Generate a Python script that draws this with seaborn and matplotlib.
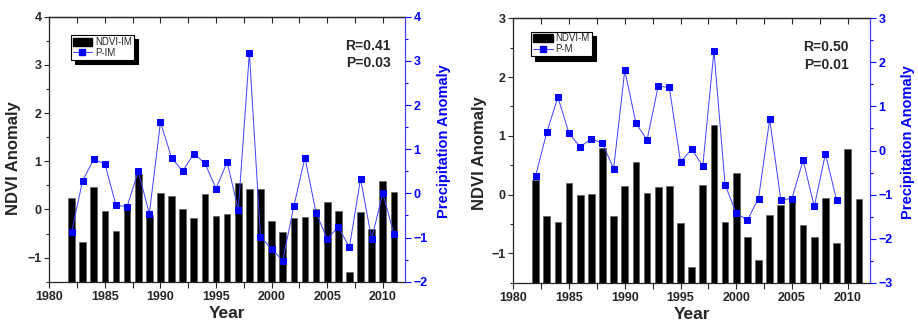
import matplotlib.pyplot as plt
import seaborn as sns
from matplotlib.patches import Patch
from matplotlib.lines import Line2D
from matplotlib.ticker import MultipleLocator

# Data
years = list(range(1982, 2012))

ndvi_im = [0.24, -0.68, 0.47, -0.03, -0.45, 0.10, 0.73, -0.12, 0.34, 0.28,
           0.00, -0.17, 0.32, -0.14, -0.10, 0.55, 0.43, 0.43, -0.23, -0.47,
           -0.18, -0.16, 0.01, 0.16, -0.03, -1.29, -0.05, -0.41, 0.58, 0.37]
p_im = [-0.88, 0.29, 0.77, 0.67, -0.27, -0.30, 0.50, -0.46, 1.61, 0.81,
        0.50, 0.90, 0.68, 0.11, 0.71, -0.37, 3.18, -0.98, -1.26, -1.52,
        -0.29, 0.81, -0.44, -1.03, -0.76, -1.22, 0.33, -1.03, 0.00, -0.91]

ndvi_m = [0.24, -0.37, -0.47, 0.20, 0.00, 0.01, 0.79, -0.37, 0.14, 0.56,
          0.02, 0.13, 0.15, -0.49, -1.24, 0.16, 1.19, -0.46, 0.36, -0.73,
          -1.12, -0.34, -0.18, -0.10, -0.52, -0.72, -0.05, -0.82, 0.78, -0.08]
# P-M series stops in 2009
p_m = [-0.58, 0.41, 1.21, 0.39, 0.08, 0.27, 0.16, -0.41, 1.82, 0.62,
       0.24, 1.46, 1.43, -0.26, 0.03, -0.35, 2.26, -0.78, -1.42, -1.58,
       -1.09, 0.71, -1.12, -1.09, -0.22, -1.27, -0.08, -1.12]

sns.set_style("ticks")
plt.rcParams["font.family"] = ["Liberation Sans", "DejaVu Sans"]
plt.rcParams["font.weight"] = "bold"

BLUE = "#0000FF"
LINE_BLUE = "#4040FF"


def panel(ax, ndvi, precip, ylim_l, ylim_r, bar_name, line_name, r_txt, p_txt,
          leg_pos, txt_x, ylab_xy, rlab_x):
    # bars are drawn up from the bottom of the axis, like in the original
    base = ylim_l[0]
    ax.bar(years, [v - base for v in ndvi], bottom=base, width=0.6,
           color="black", edgecolor="#555555", linewidth=0.4, zorder=2)
    ax.set_xlim(1980, 2012)
    ax.set_ylim(*ylim_l)
    ax.xaxis.set_major_locator(MultipleLocator(5))
    ax.xaxis.set_minor_locator(MultipleLocator(2.5))
    ax.yaxis.set_major_locator(MultipleLocator(1))
    ax.yaxis.set_minor_locator(MultipleLocator(0.5))
    ax.tick_params(axis="x", which="both", direction="out", length=4, width=0.8,
                   labelsize=9, pad=3)
    ax.tick_params(axis="y", which="major", direction="out", length=3.5, width=0.8,
                   labelsize=9, pad=2)
    ax.tick_params(axis="y", which="minor", direction="out", length=2, width=0.8)
    ax.spines["right"].set_visible(False)
    for s in ["left", "bottom", "top"]:
        ax.spines[s].set_linewidth(0.9)
    ax.set_xlabel("Year", fontsize=12.5, fontweight="bold", labelpad=2)
    ax.set_ylabel("NDVI Anomaly", fontsize=12, fontweight="bold")
    ax.yaxis.set_label_coords(*ylab_xy)

    # mirrored ticks on top, pointing inward
    top = ax.secondary_xaxis("top")
    top.xaxis.set_major_locator(MultipleLocator(2.5))
    top.tick_params(direction="in", length=4, width=0.8, labeltop=False)
    top.spines["top"].set_linewidth(0.9)

    axr = ax.twinx()
    sns.lineplot(x=years[:len(precip)], y=precip, ax=axr, color=LINE_BLUE,
                 linewidth=0.7, marker="s", markersize=4.5, markerfacecolor=BLUE,
                 markeredgecolor=BLUE, zorder=3)
    axr.set_ylim(*ylim_r)
    axr.yaxis.set_major_locator(MultipleLocator(1))
    axr.yaxis.set_minor_locator(MultipleLocator(0.5))
    axr.tick_params(axis="y", which="major", direction="out", length=4, width=0.8,
                    colors=BLUE, labelsize=9, pad=2)
    axr.tick_params(axis="y", which="minor", direction="out", length=2.5, width=0.8,
                    colors=BLUE)
    for s in ["left", "top", "bottom"]:
        axr.spines[s].set_visible(False)
    axr.spines["right"].set_color(LINE_BLUE)
    axr.spines["right"].set_linewidth(0.9)
    axr.set_ylabel("Precipitation Anomaly", color=BLUE, fontsize=10.5,
                   fontweight="bold")
    axr.yaxis.set_label_coords(rlab_x, 0.53)

    handles = [Patch(facecolor="black", edgecolor="black"),
               Line2D([], [], color=LINE_BLUE, linewidth=0.7, marker="s",
                      markersize=4, markerfacecolor=BLUE, markeredgecolor=BLUE)]
    leg = axr.legend(handles, [bar_name, line_name], loc="upper left",
                     bbox_to_anchor=leg_pos, fancybox=False, framealpha=1,
                     edgecolor="black", prop={"size": 7, "weight": "normal"},
                     handlelength=2.0, handleheight=0.9, handletextpad=0.3,
                     borderpad=0.2, labelspacing=0.1, borderaxespad=0,
                     shadow={"ox": 3, "oy": -3, "color": "black", "alpha": 1})
    leg.get_frame().set_linewidth(0.8)

    ax.text(txt_x, 0.89, r_txt, transform=ax.transAxes, ha="right", va="center",
            fontsize=10, fontweight="bold")
    ax.text(txt_x, 0.825, p_txt, transform=ax.transAxes, ha="right", va="center",
            fontsize=10, fontweight="bold")


fig = plt.figure(figsize=(9.18, 3.26), dpi=100)
ax1 = fig.add_axes([49.3 / 918, 1 - 281.7 / 326, 355.7 / 918, 265 / 326])
ax2 = fig.add_axes([513.3 / 918, 1 - 282.7 / 326, 356.7 / 918, 264.4 / 326])

panel(ax1, ndvi_im, p_im, (-1.5, 4), (-2, 4), "NDVI-IM", "P-IM",
      "R=0.41", "P=0.03", (0.06, 0.93), 0.96, (-0.08, 0.467), 1.09)
panel(ax2, ndvi_m, p_m, (-1.5, 3), (-3, 3), "NDVI-M", "P-M",
      "R=0.50", "P=0.01", (0.05, 0.95), 0.94, (-0.074, 0.489), 1.087)

fig.savefig("out.png", dpi=100)
